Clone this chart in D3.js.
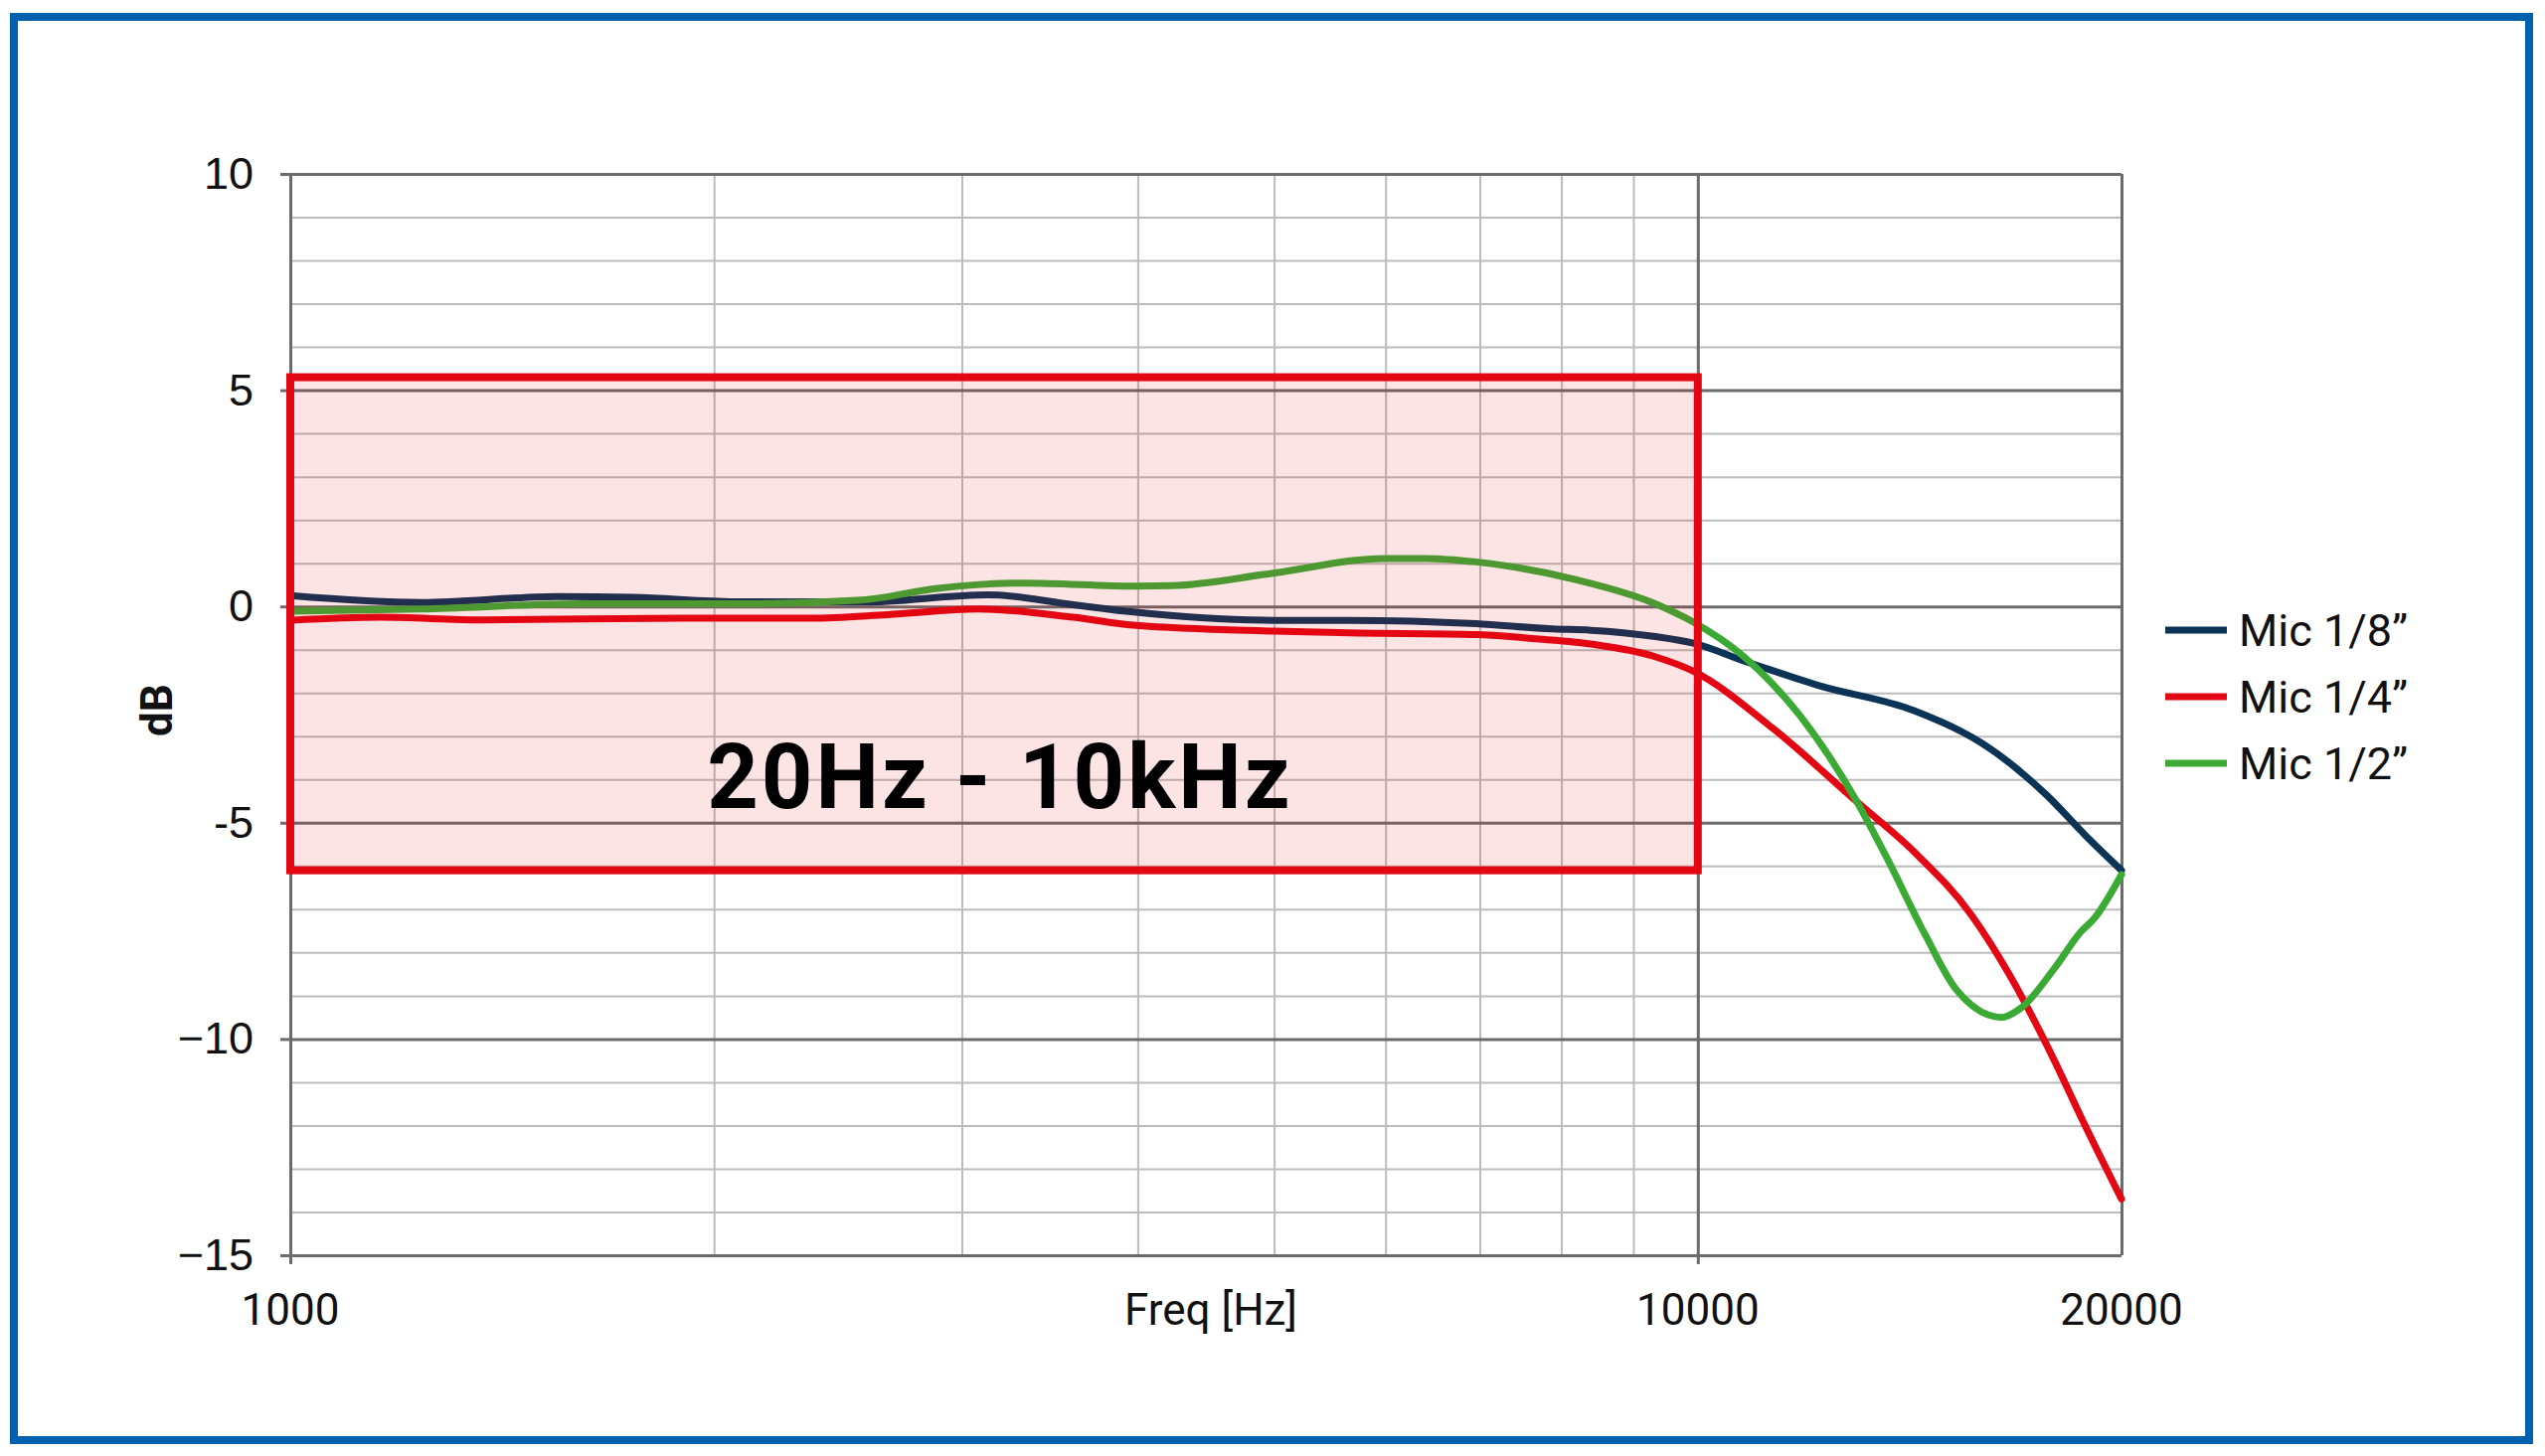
<!DOCTYPE html>
<html>
<head>
<meta charset="utf-8">
<script src="https://cdn.jsdelivr.net/npm/d3@7"></script>
<style>
  body { margin: 0; background: #fff; }
  svg { display: block; font-family: Roboto, "Noto Sans", sans-serif; }
</style>
</head>
<body>
<div id="chart"></div>
<script>
// frequency response data
var freq18 = [1000, 1238, 1548, 1753, 2070, 2547, 3135, 3600, 3926, 4993, 5653, 6959, 7879, 8395, 9299, 9929, 10766, 12194, 14244, 16135, 17706, 18850, 20000];
var db18   = [0.25, 0.09, 0.23, 0.21, 0.11, 0.10, 0.27, 0.04, -0.11, -0.32, -0.32, -0.40, -0.52, -0.55, -0.69, -0.85, -1.25, -1.83, -2.41, -3.29, -4.37, -5.29, -6.10];

var freq14 = [1000, 1159, 1368, 1904, 2343, 2655, 3083, 3600, 3991, 4993, 5653, 6959, 7558, 8395, 9300, 9929, 11317, 12977, 14244, 15642, 16646, 17927, 18715, 20000];
var db14   = [-0.32, -0.25, -0.31, -0.27, -0.27, -0.19, -0.06, -0.25, -0.44, -0.57, -0.61, -0.65, -0.73, -0.87, -1.15, -1.50, -2.83, -4.52, -5.67, -7.13, -8.51, -10.51, -11.80, -13.70];

var freq12 = [1000, 1238, 1614, 2070, 2547, 2885, 3325, 3991, 4230, 4993, 5994, 6405, 6959, 8214, 9299, 9900, 10766, 11817, 12977, 13633, 14512, 15257, 16440, 16973, 17927, 18715, 19131, 20000];
var db12   = [-0.11, -0.06, 0.06, 0.06, 0.15, 0.42, 0.54, 0.47, 0.48, 0.77, 1.11, 1.11, 1.03, 0.61, 0.08, -0.34, -1.14, -2.52, -4.52, -5.83, -7.60, -8.85, -9.50, -9.28, -8.36, -7.52, -7.21, -6.20];

var seriesNames  = ["Mic 1/8\u201D", "Mic 1/4\u201D", "Mic 1/2\u201D"];
var seriesColors = ["#0b3356", "#e30613", "#3baa35"];

var xTicksMajor = [1000, 10000, 20000];
var xTicksMinor = [2000, 3000, 4000, 5000, 6000, 7000, 8000, 9000];
var yTicksMajor = [-15, -10, -5, 0, 5, 10];
var yTicksMinor = d3.range(-15, 11, 1);

// highlighted band (20Hz - 10kHz)
var bandFreq = [1000, 10000];
var bandDb = [-6.1, 5.3];
var bandLabel = "20Hz - 10kHz";

var W = 2560, H = 1465;
var margin = {top: 175, right: 426, bottom: 202, left: 292};
var width = W - margin.left - margin.right,
    height = H - margin.top - margin.bottom;

var svg = d3.select("#chart").append("svg")
    .attr("width", W)
    .attr("height", H);

// blue frame
svg.append("rect")
    .attr("x", 14).attr("y", 17)
    .attr("width", 2530).attr("height", 1432)
    .attr("fill", "#fff")
    .attr("stroke", "#0062ae")
    .attr("stroke-width", 8);

var g = svg.append("g")
    .attr("transform", "translate(" + margin.left + "," + margin.top + ")");

var x = d3.scaleLog().domain([1000, 20000]).range([0, width]);
var y = d3.scaleLinear().domain([-15, 10]).range([height, 0]);

// minor grid
g.append("g")
    .call(d3.axisLeft(y).tickValues(yTicksMinor.filter(function(d) { return yTicksMajor.indexOf(d) < 0; })).tickSize(-width).tickFormat(""))
    .call(function(a) { a.select(".domain").remove(); })
    .selectAll("line").attr("stroke", "#bcbcbc").attr("stroke-width", 2);

g.append("g")
    .attr("transform", "translate(0," + height + ")")
    .call(d3.axisBottom(x).tickValues(xTicksMinor).tickSize(-height).tickFormat(""))
    .call(function(a) { a.select(".domain").remove(); })
    .selectAll("line").attr("stroke", "#bcbcbc").attr("stroke-width", 2);

// major grid
g.append("g")
    .call(d3.axisLeft(y).tickValues(yTicksMajor).tickSize(-width).tickFormat(""))
    .call(function(a) { a.select(".domain").remove(); })
    .selectAll("line").attr("stroke", "#6b6b6b").attr("stroke-width", 3);

g.append("g")
    .attr("transform", "translate(0," + height + ")")
    .call(d3.axisBottom(x).tickValues(xTicksMajor).tickSize(-height).tickFormat(""))
    .call(function(a) { a.select(".domain").remove(); })
    .selectAll("line").attr("stroke", "#6b6b6b").attr("stroke-width", 3);

// Y axis ticks + labels
var yAxis = g.append("g")
    .call(d3.axisLeft(y).tickValues(yTicksMajor).tickSize(10).tickPadding(27)
      .tickFormat(function(d) { return d < 0 ? "\u2212" + Math.abs(d) : d; }));
yAxis.select(".domain").remove();
yAxis.selectAll("line").attr("stroke", "#6b6b6b").attr("stroke-width", 3);
yAxis.selectAll("text").attr("fill", "#111").style("font-size", "45px");
yAxis.selectAll("text").filter(function(d) { return d === -5; })
    .text("-5");

// X axis ticks + labels
var xAxis = g.append("g")
    .attr("transform", "translate(0," + height + ")")
    .call(d3.axisBottom(x).tickValues([1000, 10000]).tickSize(9).tickFormat(""));
xAxis.select(".domain").remove();
xAxis.selectAll("line").attr("stroke", "#6b6b6b").attr("stroke-width", 3);

g.append("g").selectAll("text")
    .data(xTicksMajor)
    .enter().append("text")
    .attr("x", function(d) { return x(d); })
    .attr("y", height + 54)
    .attr("dy", "0.36em")
    .attr("text-anchor", "middle")
    .attr("fill", "#111")
    .style("font-size", "44px")
    .text(function(d) { return d; });

g.append("text")
    .attr("x", 926)
    .attr("y", height + 54)
    .attr("dy", "0.36em")
    .attr("text-anchor", "middle")
    .attr("fill", "#111")
    .style("font-size", "44px")
    .text("Freq [Hz]");

g.append("text")
    .attr("transform", "translate(-135," + y(-2.4) + ") rotate(-90)")
    .attr("text-anchor", "middle")
    .attr("dy", "0.36em")
    .attr("fill", "#111")
    .style("font-size", "44px")
    .style("font-weight", "bold")
    .text("dB");

// curves
var series = [
  {name: seriesNames[0], color: seriesColors[0], f: freq18, v: db18},
  {name: seriesNames[1], color: seriesColors[1], f: freq14, v: db14},
  {name: seriesNames[2], color: seriesColors[2], f: freq12, v: db12}
];

var line = d3.line()
    .curve(d3.curveMonotoneX)
    .x(function(d) { return x(d[0]); })
    .y(function(d) { return y(d[1]); });

series.forEach(function(s) {
  g.append("path")
      .datum(d3.zip(s.f, s.v))
      .attr("fill", "none")
      .attr("stroke", s.color)
      .attr("stroke-width", 7)
      .attr("stroke-linejoin", "round")
      .attr("stroke-linecap", "round")
      .attr("d", line);
});

// highlighted band
g.append("rect")
    .attr("x", x(bandFreq[0]))
    .attr("y", y(bandDb[1]))
    .attr("width", x(bandFreq[1]) - x(bandFreq[0]))
    .attr("height", y(bandDb[0]) - y(bandDb[1]))
    .attr("fill", "rgba(227,6,19,0.11)")
    .attr("stroke", "#e30613")
    .attr("stroke-width", 8);

g.append("text")
    .attr("x", x(Math.sqrt(bandFreq[0] * bandFreq[1])) + 6)
    .attr("y", y(-4.66))
    .attr("text-anchor", "middle")
    .attr("fill", "#000")
    .style("font-size", "90px")
    .style("font-weight", "bold")
    .style("letter-spacing", "3px")
    .text(bandLabel);

// legend
var legend = svg.append("g")
    .attr("transform", "translate(2178,634)");

var item = legend.selectAll("g")
    .data(series)
    .enter().append("g")
    .attr("transform", function(d, i) { return "translate(0," + i * 67 + ")"; });

item.append("line")
    .attr("x1", 0).attr("x2", 62)
    .attr("stroke", function(d) { return d.color; })
    .attr("stroke-width", 7);

item.append("text")
    .attr("x", 74)
    .attr("dy", "0.36em")
    .attr("fill", "#111")
    .style("font-size", "45px")
    .text(function(d) { return d.name; });
</script>
</body>
</html>
